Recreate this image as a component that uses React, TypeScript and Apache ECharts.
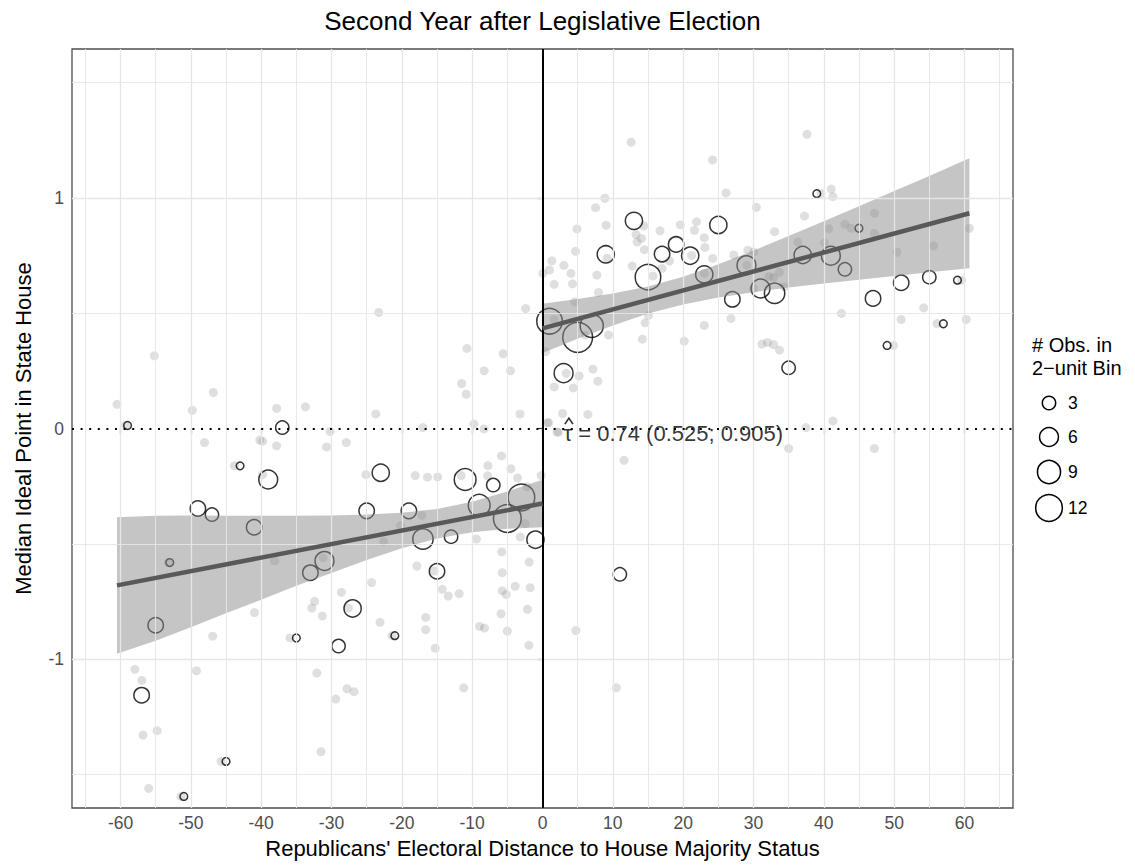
import React, { useEffect, useRef } from "react";
import * as echarts from "echarts";

const FONT = "'Liberation Sans', Arial, Helvetica, sans-serif";

const titleText = "Second Year after Legislative Election";
const xTitle = "Republicans' Electoral Distance to House Majority Status";
const yTitle = "Median Ideal Point in State House";
const annotationText = "\u03C4 = 0.74 (0.525; 0.905)";
const legendTitle = ["# Obs. in", "2\u2212unit Bin"];

const xTicks = [-60, -50, -40, -30, -20, -10, 0, 10, 20, 30, 40, 50, 60];
const yTicks = [-1, 0, 1];
const xMinorGrid = [-65, -55, -45, -35, -25, -15, -5, 5, 15, 25, 35, 45, 55, 65];
const yMajorGrid = [-1, 1];
const yMinorGrid = [-1.5, -0.5, 0.5, 1.5];

// raw observations (gray dots)
const rawPoints: [number, number][] = [
  [-60.5, 0.105], [-55.2, 0.315], [-46.8, 0.156], [-49.8, 0.079], [-37.8, 0.087],
  [-33.7, 0.094], [-23.7, 0.063], [-3.2, 0.063], [-23.3, 0.503], [-10.75, 0.347],
  [-5.6, 0.324], [-8.3, 0.25], [-4.55, 0.25], [-11.5, 0.195], [-10.85, 0.149],
  [-2.4, 0.52], [-59.3, 0.014], [-48.06, -0.061], [-40.2, -0.05], [-39.8, -0.055],
  [-37.8, -0.075], [-30.2, -0.013], [-30.7, -0.08], [-27.9, -0.061], [-43.8, -0.162],
  [-39.8, -0.2], [-25.1, -0.2], [-22.6, -0.49], [-38.1, -0.574], [-31.2, -0.56],
  [-17.86, -0.596], [-15.4, -0.618], [-5.8, -0.535], [-1.9, -0.579], [-5.73, -0.625],
  [-3.88, -0.684], [-1.75, -0.69], [-5.73, -0.703], [-5.16, -0.72], [-14.26, -0.697],
  [-13.4, -0.726], [-11.85, -0.716], [-24.3, -0.668], [-28.6, -0.71], [-32.4, -0.749],
  [-32.8, -0.778], [-31.3, -0.813], [-40.95, -0.798], [-27.6, -0.778], [-23.1, -0.84],
  [-16.6, -0.819], [-16.6, -0.872], [-15.26, -0.952], [-2.13, -0.784], [-5.9, -0.803],
  [-5.0, -0.878], [-8.96, -0.858], [-8.25, -0.865], [-1.94, -0.94], [-46.9, -0.9],
  [-35.9, -0.908], [-21.4, -0.898], [-57.95, -1.044], [-56.96, -1.092], [-49.2, -1.05],
  [-32.1, -1.06], [-27.8, -1.128], [-26.8, -1.141], [-29.4, -1.173], [-11.2, -1.124],
  [-56.8, -1.329], [-54.8, -1.31], [-31.5, -1.401], [-45.7, -1.443], [-56.0, -1.56],
  [-51.4, -1.595], [-17.0, 0.004], [-9.75, 0.019], [-8.3, -0.002], [-5.83, -0.119],
  [-7.76, -0.161], [-4.5, -0.175], [-18.1, -0.204], [-16.35, -0.211], [-14.9, -0.21],
  [-3.55, -0.214], [-0.18, -0.204], [-17.15, -0.377], [-20.2, -0.421], [-9.4, -0.479],
  [-11.56, -0.204], [-7.8, -0.205], [-2.2, -0.253], [-2.46, -0.412], [-3.16, -0.47],
  [-53.2, -0.581],
  [1.33, 0.727], [1.0, 0.687], [0.05, 0.672], [1.66, 0.625], [1.66, 0.18],
  [0.7, 0.024], [2.05, -0.015], [0.43, 0.333], [3.37, 0.239], [5.2, 0.228],
  [7.17, 0.257], [7.87, 0.205], [4.37, 0.176], [2.85, 0.065], [6.45, 0.061],
  [0.86, 0.026], [2.27, -0.016], [11.6, -0.138], [9.4, 0.405], [14.2, 0.387],
  [20.15, 0.379], [6.1, 0.405], [35.0, -0.087], [37.45, 0.004], [41.3, 0.033],
  [47.2, -0.087], [4.75, -0.876], [10.5, -1.124], [12.6, 1.241], [8.87, 0.998],
  [7.54, 0.957], [4.9, 0.865], [9.06, 0.881], [4.7, 0.768], [3.04, 0.707],
  [4.04, 0.672], [4.27, 0.627], [7.73, 0.665], [7.96, 0.59], [4.6, 0.549],
  [1.66, 0.473], [12.75, 0.704], [14.4, 0.878], [13.3, 0.841], [14.08, 0.824],
  [13.46, 0.808], [14.5, 0.775], [16.7, 0.857], [15.7, 0.661], [17.0, 0.694],
  [19.6, 0.883], [21.6, 0.859], [21.9, 0.896], [18.06, 0.726], [21.2, 0.75],
  [15.07, 0.49], [14.6, 0.458], [24.17, 1.164], [37.6, 1.275], [26.1, 1.021],
  [30.4, 0.959], [23.0, 0.827], [23.1, 0.785], [24.2, 0.737], [23.0, 0.672],
  [27.2, 0.752], [29.2, 0.773], [30.06, 0.765], [33.0, 0.853], [30.0, 0.607],
  [32.2, 0.659], [32.85, 0.655], [33.7, 0.677], [34.4, 0.614], [37.25, 0.921],
  [36.3, 0.808], [40.1, 0.805], [39.6, 1.019], [41.05, 1.038], [41.3, 1.005],
  [40.7, 0.866], [43.0, 0.885], [43.9, 0.868], [47.2, 0.933], [47.2, 0.846],
  [50.4, 0.764], [55.6, 0.792], [60.7, 0.868], [60.25, 0.473], [56.1, 0.455],
  [54.2, 0.523], [51.0, 0.473], [49.9, 0.36], [42.5, 0.499], [59.6, 0.643],
  [33.7, 0.34], [32.85, 0.364], [32.0, 0.373], [31.2, 0.366], [26.8, 0.477],
  [23.0, 0.447], [9.2, 0.738], [29.06, 0.708],
];

// 2-unit bin medians: centre, median, number of observations
const binX = [
  1, 5, 7, 3, 9, 13, 15, 17, 19, 21, 23, 25, 27, 29, 31, 33, 35, 37, 39, 41, 43, 45, 47, 49, 51, 55, 57, 59, 11,
  -59, -37, -43, -39, -49, -47, -41, -53, -55, -57, -45, -51, -23, -25, -31, -33, -27, -35, -29, -21,
  -19, -17, -13, -15, -11, -7, -9, -5, -3, -1,
];
const binY = [
  0.465, 0.395, 0.445, 0.24, 0.755, 0.9, 0.656, 0.756, 0.798, 0.749, 0.668, 0.882, 0.56, 0.708, 0.607,
  0.586, 0.263, 0.752, 1.018, 0.749, 0.69, 0.868, 0.564, 0.36, 0.632, 0.656, 0.454, 0.643, -0.632,
  0.013, 0.004, -0.162, -0.221, -0.347, -0.373, -0.428, -0.581, -0.853, -1.156, -1.443, -1.595, -0.192,
  -0.357, -0.574, -0.625, -0.78, -0.908, -0.943, -0.898, -0.357, -0.479, -0.469, -0.619, -0.221, -0.245,
  -0.333, -0.39, -0.299, -0.482,
];
const binN = [
  11, 15, 9, 6, 5, 5, 11, 4, 4, 5, 5, 5, 4, 6, 6, 7, 3, 5, 1, 6, 3, 1, 4, 1, 4, 3, 1, 1, 3,
  1, 3, 1, 6, 4, 3, 4, 1, 4, 4, 1, 1, 5, 4, 6, 4, 5, 1, 3, 1,
  4, 7, 3, 4, 8, 3, 8, 13, 12, 5,
];

// fitted lines and 95% bands
const leftFitX = [-60.5, 0];
const leftFitY = [-0.68, -0.325];
const rightFitX = [0, 60.7];
const rightFitY = [0.434, 0.933];
const leftBandX = [-60.5, -55, -50, -45, -40, -35, -30, -25, -20, -15, -10, -5, 0];
const leftBandLo = [-0.976, -0.92, -0.861, -0.801, -0.742, -0.682, -0.626, -0.57, -0.519, -0.477, -0.45, -0.435, -0.428];
const leftBandHi = [-0.385, -0.378, -0.377, -0.378, -0.378, -0.378, -0.377, -0.373, -0.365, -0.349, -0.318, -0.273, -0.222];
const rightBandX = [0, 5, 10, 15, 20, 25, 30, 35, 40, 45, 50, 55, 60.7];
const rightBandLo = [0.327, 0.389, 0.447, 0.498, 0.538, 0.568, 0.591, 0.611, 0.628, 0.645, 0.661, 0.677, 0.695];
const rightBandHi = [0.541, 0.561, 0.585, 0.616, 0.658, 0.712, 0.771, 0.834, 0.898, 0.963, 1.029, 1.095, 1.171];

const annotationAt: [number, number] = [2.9, -0.02];

const legendCounts = [3, 6, 9, 12];

const X_MIN = -66.9;
const X_MAX = 66.9;
const Y_MIN = -1.645;
const Y_MAX = 1.645;

const circleSize = (n: number) => 7.7 * Math.sqrt(n);

function bandSeries(xs: number[], lo: number[], hi: number[]) {
  return {
    type: "custom",
    silent: true,
    z: 4,
    data: [[0, 0]],
    renderItem: (_params: any, api: any) => {
      const pts: number[][] = [];
      for (let i = 0; i < xs.length; i++) pts.push(api.coord([xs[i], hi[i]]));
      for (let i = xs.length - 1; i >= 0; i--) pts.push(api.coord([xs[i], lo[i]]));
      return {
        type: "polygon",
        shape: { points: pts },
        style: { fill: "rgba(140,140,140,0.5)", stroke: "none" },
      };
    },
  };
}

export default function App() {
  const ref = useRef<HTMLDivElement>(null);

  useEffect(() => {
    document.body.style.margin = "0";
    if (!ref.current) return;
    const chart = echarts.init(ref.current, undefined, { renderer: "svg" });

    const gridLine = (w: number) => ({ color: "#e6e6e6", width: w, type: "solid" });

    const gridMarks = [
      ...xTicks.map((v) => ({ xAxis: v, lineStyle: gridLine(1.3) })),
      ...xMinorGrid.map((v) => ({ xAxis: v, lineStyle: gridLine(0.9) })),
      ...yMajorGrid.map((v) => ({ yAxis: v, lineStyle: gridLine(1.3) })),
      ...yMinorGrid.map((v) => ({ yAxis: v, lineStyle: gridLine(0.9) })),
    ];

    const titleY = [345, 368];
    const keyY = [403, 437, 472, 508];
    const legendGraphics: any[] = legendTitle.map((t, i) => ({
      type: "text",
      x: 1032,
      y: titleY[i],
      style: {
        text: t,
        font: `20px ${FONT}`,
        fill: "#000",
        textVerticalAlign: "middle",
        verticalAlign: "middle",
      },
    }));
    legendCounts.forEach((n, i) => {
      legendGraphics.push({
        type: "circle",
        shape: { cx: 1049, cy: keyY[i], r: circleSize(n) / 2 },
        style: { fill: "none", stroke: "#000", lineWidth: 1.5 },
      });
      legendGraphics.push({
        type: "text",
        x: 1068,
        y: keyY[i],
        style: {
          text: String(n),
          font: `17.5px ${FONT}`,
          fill: "#000",
          textVerticalAlign: "middle",
          verticalAlign: "middle",
        },
      });
    });

    chart.setOption({
      animation: false,
      backgroundColor: "#fff",
      textStyle: { fontFamily: FONT },
      grid: {
        left: 72,
        right: 122,
        top: 49,
        bottom: 57,
        show: true,
        borderColor: "#4d4d4d",
        borderWidth: 1.3,
        backgroundColor: "#fff",
        containLabel: false,
      },
      xAxis: {
        type: "value",
        min: X_MIN,
        max: X_MAX,
        axisLine: { show: false },
        splitLine: { show: false },
        axisTick: {
          show: true,
          customValues: xTicks,
          length: 5,
          lineStyle: { color: "#333", width: 1.2 },
        },
        axisLabel: {
          customValues: xTicks,
          fontSize: 17.5,
          color: "#4d4d4d",
          margin: 6,
          fontFamily: FONT,
        },
        name: xTitle,
        nameLocation: "middle",
        nameGap: 29,
        nameTextStyle: { fontSize: 22, color: "#000", fontFamily: FONT },
      },
      yAxis: {
        type: "value",
        min: Y_MIN,
        max: Y_MAX,
        axisLine: { show: false },
        splitLine: { show: false },
        axisTick: {
          show: true,
          customValues: yTicks,
          length: 5,
          lineStyle: { color: "#333", width: 1.2 },
        },
        axisLabel: {
          customValues: yTicks,
          fontSize: 17.5,
          color: "#4d4d4d",
          margin: 8,
          fontFamily: FONT,
        },
        name: yTitle,
        nameLocation: "middle",
        nameGap: 38,
        nameRotate: 90,
        nameTextStyle: { fontSize: 22, color: "#000", fontFamily: FONT },
      },
      graphic: [
        {
          type: "text",
          x: 542.5,
          y: 21,
          style: {
            text: titleText,
            font: `26px ${FONT}`,
            fill: "#000",
            textAlign: "center",
            textVerticalAlign: "middle",
            align: "center",
            verticalAlign: "middle",
          },
        },
        ...legendGraphics,
      ],
      series: [
        {
          type: "line",
          data: [[0, 0]],
          symbol: "none",
          lineStyle: { width: 0, opacity: 0 },
          silent: true,
          z: 1,
          markLine: {
            silent: true,
            symbol: ["none", "none"],
            label: { show: false },
            data: gridMarks,
          },
        },
        {
          type: "scatter",
          data: rawPoints,
          symbolSize: 9,
          itemStyle: { color: "rgba(128,128,128,0.32)" },
          silent: true,
          z: 2,
        },
        {
          type: "scatter",
          data: binX.map((x, i) => [x, binY[i], binN[i]]),
          symbolSize: (v: number[]) => circleSize(v[2]),
          itemStyle: { color: "rgba(0,0,0,0)", borderColor: "#000", borderWidth: 1.5 },
          silent: true,
          z: 3,
        },
        bandSeries(leftBandX, leftBandLo, leftBandHi),
        bandSeries(rightBandX, rightBandLo, rightBandHi),
        {
          type: "line",
          data: leftFitX.map((x, i) => [x, leftFitY[i]]),
          showSymbol: false,
          symbol: "none",
          lineStyle: { color: "#595959", width: 4.5 },
          silent: true,
          z: 5,
        },
        {
          type: "line",
          data: rightFitX.map((x, i) => [x, rightFitY[i]]),
          showSymbol: false,
          symbol: "none",
          lineStyle: { color: "#595959", width: 4.5 },
          silent: true,
          z: 5,
        },
        {
          type: "line",
          data: [[0, 0]],
          symbol: "none",
          lineStyle: { width: 0, opacity: 0 },
          silent: true,
          z: 6,
          markLine: {
            silent: true,
            symbol: ["none", "none"],
            label: { show: false },
            data: [
              { xAxis: 0, lineStyle: { color: "#000", width: 2, type: "solid" } },
              { yAxis: 0, lineStyle: { color: "#000", width: 2.2, type: [2, 6.6] } },
            ],
          },
        },
        {
          type: "scatter",
          data: [annotationAt],
          symbolSize: 1,
          itemStyle: { color: "rgba(0,0,0,0)" },
          silent: true,
          z: 7,
          label: {
            show: true,
            position: "right",
            distance: 0,
            formatter: annotationText,
            fontSize: 22,
            color: "#000",
            fontFamily: FONT,
          },
        },
        {
          // the hat over tau
          type: "scatter",
          data: [annotationAt],
          symbol: "path://M0,10 L5,0 L10,10",
          symbolSize: [8, 6],
          symbolOffset: [6, -12],
          itemStyle: { color: "rgba(0,0,0,0)", borderColor: "#000", borderWidth: 1.4 },
          silent: true,
          z: 7,
        },
      ],
    });

    return () => chart.dispose();
  }, []);

  return <div ref={ref} style={{ width: 1135, height: 865 }} />;
}
